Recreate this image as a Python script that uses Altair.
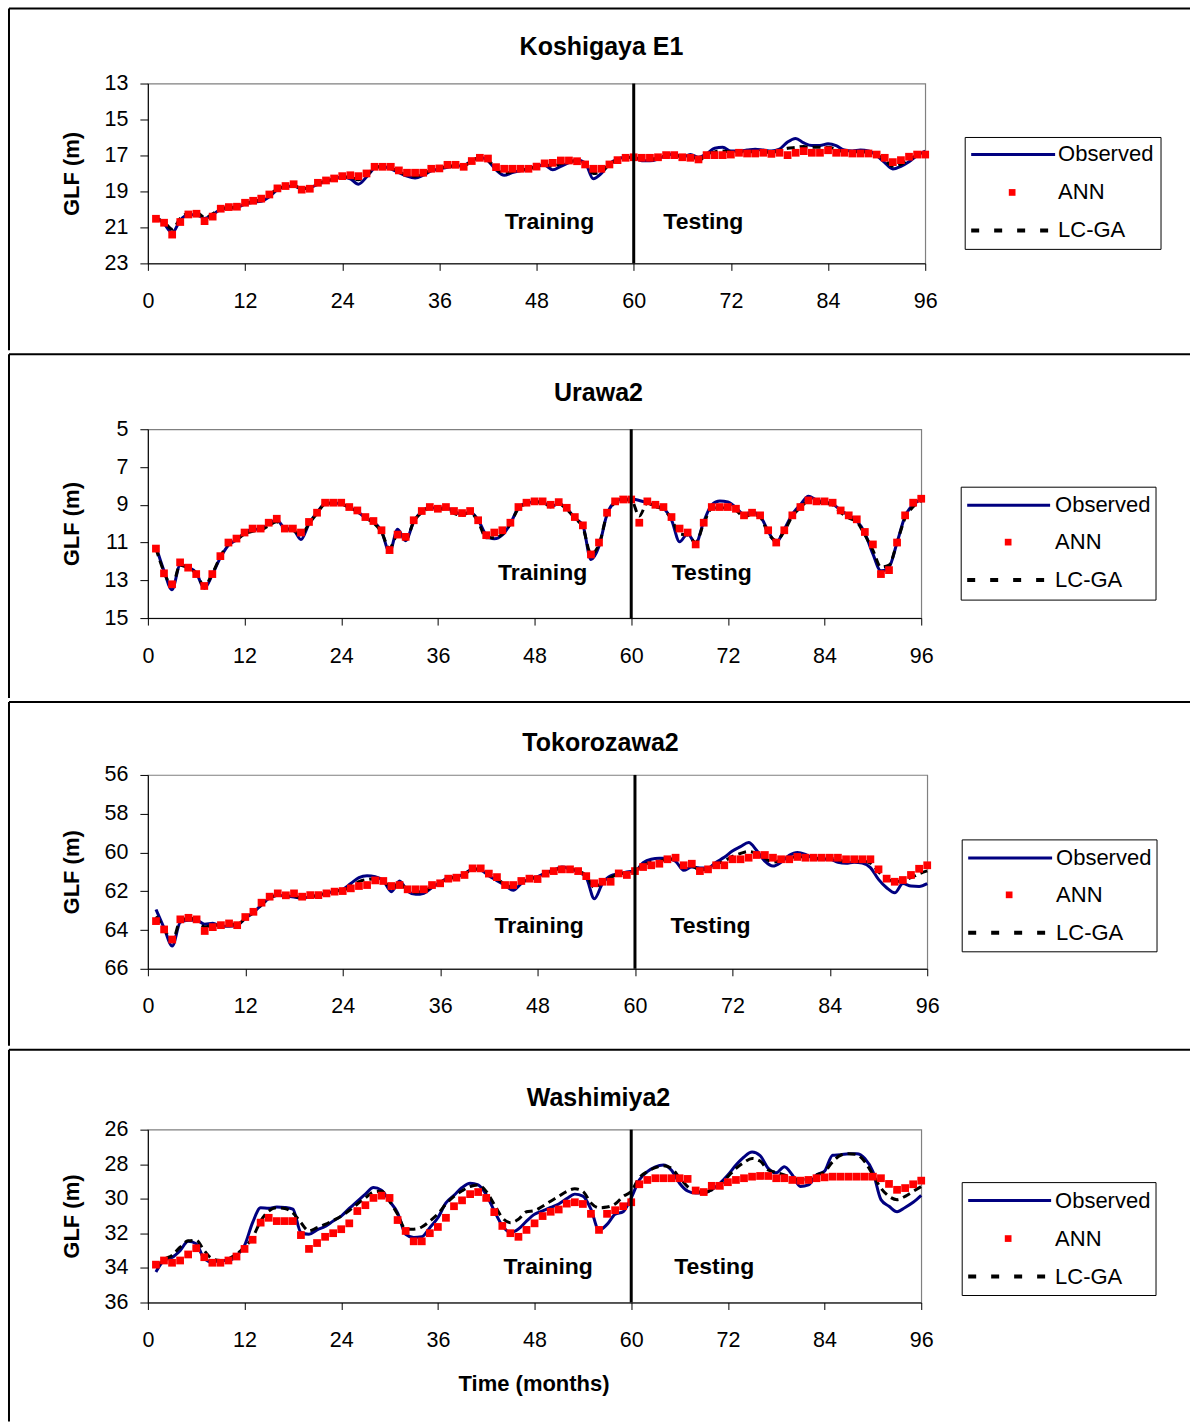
import altair as alt
import pandas as pd

FONT = "Liberation Sans"
months = list(range(1, 97))
x_ticks = list(range(0, 97, 12))

titles = ["Koshigaya E1", "Urawa2", "Tokorozawa2", "Washimiya2"]
series_names = ["Observed", "ANN", "LC-GA"]
annot_labels = ["Training", "Testing"]

# ---------------- Koshigaya E1 ----------------
obs1 = [20.4, 20.8, 21.3, 20.6, 20.3, 20.3, 20.5, 20.3, 20.0, 19.95, 19.9, 19.7, 19.6, 19.55, 19.3, 18.9,
        18.75, 18.7, 18.85, 18.8, 18.6, 18.45, 18.3, 18.2, 18.3, 18.6, 18.2, 17.7, 17.6, 17.75, 17.95, 18.15,
        18.25, 18.1, 17.85, 17.75, 17.65, 17.6, 17.55, 17.3, 17.1, 17.3, 17.8, 18.1, 17.95, 17.85, 17.75, 17.6,
        17.55, 17.8, 17.6, 17.4, 17.25, 17.4, 18.3, 18.0, 17.45, 17.2, 17.1, 17.1, 17.3, 17.3, 17.2, 17.0,
        16.9, 17.1, 16.95, 17.1, 16.9, 16.6, 16.55, 16.75, 16.75, 16.7, 16.65, 16.7, 16.75, 16.65, 16.25, 16.05,
        16.3, 16.45, 16.45, 16.35, 16.45, 16.7, 16.75, 16.7, 16.75, 17.0, 17.4, 17.75, 17.6, 17.35, 17.0, 16.75]
ann1 = [20.52, 20.74, 21.4, 20.7, 20.28, 20.24, 20.65, 20.4, 19.96, 19.87, 19.85, 19.63, 19.52, 19.4, 19.17, 18.83,
        18.7, 18.6, 18.9, 18.85, 18.52, 18.39, 18.28, 18.15, 18.1, 18.15, 18.0, 17.63, 17.63, 17.63, 17.83, 17.96,
        17.96, 17.96, 17.74, 17.72, 17.52, 17.52, 17.63, 17.31, 17.13, 17.17, 17.65, 17.74, 17.74, 17.74, 17.74, 17.62,
        17.44, 17.41, 17.28, 17.28, 17.32, 17.5, 17.74, 17.74, 17.5, 17.26, 17.13, 17.1, 17.13, 17.13, 17.1, 16.98,
        16.98, 17.1, 17.13, 17.22, 16.98, 16.98, 16.98, 16.95, 16.85, 16.89, 16.89, 16.85, 16.91, 16.85, 16.98, 16.85,
        16.76, 16.85, 16.85, 16.71, 16.85, 16.85, 16.89, 16.89, 16.89, 16.95, 17.13, 17.37, 17.26, 17.07, 16.95, 16.95]
lcga1 = [20.5, 20.7, 21.1, 20.5, 20.2, 20.15, 20.45, 20.25, 19.95, 19.9, 19.85, 19.65, 19.55, 19.45, 19.2, 18.85,
         18.72, 18.65, 18.85, 18.8, 18.55, 18.42, 18.3, 18.18, 18.2, 18.35, 18.1, 17.7, 17.62, 17.7, 17.9, 18.1,
         18.15, 18.05, 17.8, 17.73, 17.6, 17.57, 17.58, 17.3, 17.1, 17.25, 17.75, 18.0, 17.9, 17.8, 17.75, 17.62,
         17.5, 17.6, 17.45, 17.35, 17.3, 17.45, 18.0, 17.9, 17.5, 17.25, 17.12, 17.1, 17.2, 17.2, 17.15, 17.0,
         16.95, 17.1, 17.05, 17.3, 16.95, 16.8, 16.75, 16.8, 16.8, 16.8, 16.8, 16.8, 16.85, 16.7, 16.6, 16.55,
         16.5, 16.55, 16.55, 16.55, 16.65, 16.8, 16.8, 16.8, 16.82, 16.95, 17.25, 17.6, 17.5, 17.2, 17.0, 16.85]

# ---------------- Urawa2 ----------------
obs2 = [11.2, 12.5, 13.5, 12.2, 12.3, 12.6, 13.42, 12.7, 11.8, 11.14, 10.85, 10.5, 10.3, 10.3, 10.0, 9.8,
        10.25, 10.3, 10.84, 10.0, 9.4, 8.95, 8.9, 8.95, 9.15, 9.35, 9.7, 9.9, 10.4, 11.5, 10.3, 10.9,
        9.9, 9.35, 9.15, 9.2, 9.15, 9.35, 9.5, 9.4, 9.8, 10.6, 10.8, 10.6, 10.0, 9.15, 8.9, 8.85,
        8.85, 9.1, 8.95, 9.2, 9.7, 10.1, 11.9, 11.2, 9.5, 8.85, 8.7, 8.7, 8.77, 8.9, 9.05, 9.2,
        9.8, 10.96, 10.53, 11.05, 9.9, 9.0, 8.8, 8.85, 9.15, 9.5, 9.4, 9.6, 10.4, 11.0, 10.3, 9.5,
        9.0, 8.55, 8.75, 8.85, 8.95, 9.3, 9.55, 9.85, 10.5, 11.6, 12.5, 12.3, 11.0, 9.6, 9.0, 8.7]
ann2 = [11.32, 12.63, 13.21, 12.05, 12.33, 12.67, 13.3, 12.67, 11.72, 11.0, 10.79, 10.47, 10.26, 10.26, 9.95, 9.74,
        10.26, 10.26, 10.47, 9.91, 9.42, 8.89, 8.89, 8.89, 9.12, 9.3, 9.65, 9.86, 10.35, 11.4, 10.58, 10.7,
        9.82, 9.33, 9.12, 9.21, 9.12, 9.33, 9.44, 9.33, 9.82, 10.61, 10.47, 10.35, 9.95, 9.12, 8.89, 8.82,
        8.82, 9.0, 8.86, 9.16, 9.65, 10.09, 11.63, 11.0, 9.42, 8.82, 8.72, 8.72, 9.95, 8.82, 9.0, 9.12,
        9.65, 10.26, 10.47, 11.1, 9.95, 9.12, 9.12, 9.12, 9.21, 9.56, 9.42, 9.56, 10.35, 11.0, 10.35, 9.56,
        9.12, 8.77, 8.82, 8.82, 8.89, 9.3, 9.56, 9.77, 10.44, 11.1, 12.67, 12.46, 11.0, 9.56, 8.89, 8.68]
lcga2 = [11.3, 12.55, 13.3, 12.2, 12.35, 12.65, 13.3, 12.65, 11.75, 11.05, 10.85, 10.55, 10.4, 10.35, 10.1, 9.9,
         10.3, 10.35, 10.6, 10.0, 9.45, 8.95, 8.9, 8.95, 9.15, 9.35, 9.7, 9.95, 10.45, 11.3, 10.6, 10.85,
         9.9, 9.4, 9.2, 9.25, 9.2, 9.45, 9.55, 9.4, 9.9, 10.75, 10.75, 10.55, 10.0, 9.2, 8.95, 8.85,
         8.85, 9.1, 8.95, 9.25, 9.7, 10.2, 11.6, 11.1, 9.5, 8.9, 8.75, 8.75, 9.6, 8.9, 9.1, 9.25,
         9.75, 10.55, 10.6, 11.0, 10.0, 9.2, 9.15, 9.2, 9.3, 9.65, 9.5, 9.65, 10.5, 10.9, 10.4, 9.6,
         9.15, 8.8, 8.85, 8.9, 9.0, 9.4, 9.7, 9.9, 10.6, 11.4, 12.3, 12.2, 11.0, 9.7, 9.1, 8.8]

# ---------------- Tokorozawa2 ----------------
obs3 = [62.94, 63.9, 64.83, 63.6, 63.5, 63.5, 63.7, 63.65, 63.8, 63.8, 63.75, 63.4, 63.1, 62.7, 62.35, 62.2,
        62.25, 62.3, 62.35, 62.3, 62.2, 62.1, 62.0, 61.9, 61.6, 61.3, 61.2, 61.25, 61.45, 62.02, 61.47, 62.0,
        62.16, 62.1, 61.8, 61.55, 61.3, 61.25, 61.1, 60.85, 60.9, 61.2, 61.45, 61.7, 61.95, 61.6, 61.35, 61.25,
        61.05, 60.9, 60.75, 60.85, 61.0, 61.3, 62.39, 61.6, 61.2, 61.1, 61.0, 60.96, 60.53, 60.35, 60.3, 60.3,
        60.45, 60.92, 60.75, 60.8, 60.8, 60.5, 60.25, 59.92, 59.7, 59.49, 59.9, 60.45, 60.7, 60.5, 60.15, 60.0,
        60.1, 60.3, 60.35, 60.35, 60.5, 60.55, 60.5, 60.55, 60.78, 61.39, 61.82, 62.08, 61.6, 61.73, 61.75, 61.61]
ann3 = [63.54, 63.97, 64.49, 63.45, 63.37, 63.45, 64.05, 63.85, 63.75, 63.66, 63.75, 63.33, 63.06, 62.59, 62.28, 62.11,
        62.21, 62.11, 62.28, 62.2, 62.2, 62.11, 62.02, 61.99, 61.85, 61.73, 61.68, 61.44, 61.47, 61.73, 61.68, 61.9,
        61.9, 61.9, 61.68, 61.59, 61.35, 61.3, 61.16, 60.82, 60.82, 61.09, 61.27, 61.68, 61.68, 61.47, 61.35, 61.37,
        61.09, 60.96, 60.87, 60.87, 60.96, 61.22, 61.59, 61.51, 61.51, 61.08, 61.16, 60.96, 60.75, 60.66, 60.58, 60.35,
        60.27, 60.66, 60.58, 60.96, 60.87, 60.66, 60.66, 60.35, 60.35, 60.27, 60.13, 60.13, 60.27, 60.35, 60.35, 60.23,
        60.27, 60.27, 60.27, 60.27, 60.27, 60.35, 60.35, 60.35, 60.35, 60.87, 61.35, 61.51, 61.42, 61.16, 60.84, 60.66]
lcga3 = [63.3, 63.9, 64.6, 63.5, 63.4, 63.45, 63.85, 63.75, 63.75, 63.7, 63.7, 63.4, 63.1, 62.7, 62.35, 62.2,
         62.25, 62.25, 62.35, 62.3, 62.2, 62.1, 62.0, 61.95, 61.75, 61.5, 61.4, 61.35, 61.45, 61.85, 61.6, 61.95,
         62.05, 62.0, 61.75, 61.55, 61.35, 61.28, 61.12, 60.85, 60.85, 61.1, 61.35, 61.65, 61.8, 61.55, 61.35, 61.3,
         61.07, 60.93, 60.8, 60.85, 60.95, 61.2, 61.8, 61.55, 61.3, 61.1, 61.05, 60.96, 60.65, 60.5, 60.45, 60.35,
         60.35, 60.8, 60.7, 60.9, 60.85, 60.6, 60.45, 60.2, 60.05, 59.95, 60.05, 60.3, 60.5, 60.4, 60.3, 60.2,
         60.25, 60.3, 60.3, 60.3, 60.4, 60.45, 60.45, 60.45, 60.55, 61.0, 61.35, 61.5, 61.45, 61.3, 61.1, 60.95]

# ---------------- Washimiya2 ----------------
obs4 = [34.23, 33.57, 33.4, 33.0, 32.46, 32.6, 33.47, 33.66, 33.57, 33.57, 33.3, 32.7, 31.38, 30.52, 30.55, 30.47,
        30.5, 30.6, 31.95, 32.05, 31.8, 31.6, 31.29, 31.0, 30.56, 30.14, 29.73, 29.35, 29.5, 30.14, 30.81, 32.05,
        32.24, 32.2, 31.67, 31.1, 30.24, 29.8, 29.35, 29.1, 29.2, 29.76, 30.7, 31.55, 31.95, 31.75, 31.29, 30.9,
        30.7, 30.5, 30.3, 29.99, 29.73, 29.85, 30.6, 31.82, 31.48, 30.9, 30.75, 29.95, 28.91, 28.43, 28.15, 28.05,
        28.35, 29.1, 29.55, 29.67, 29.67, 29.47, 29.1, 28.62, 28.05, 27.58, 27.3, 27.5, 28.24, 28.5, 28.15, 28.62,
        29.29, 29.2, 28.62, 28.4, 27.48, 27.45, 27.39, 27.39, 27.67, 28.43, 30.05, 30.43, 30.75, 30.5, 30.2, 29.8]
ann4 = [33.81, 33.57, 33.7, 33.57, 33.22, 32.86, 33.38, 33.7, 33.7, 33.57, 33.34, 32.9, 32.37, 31.38, 31.1, 31.29,
        31.29, 31.29, 32.1, 32.9, 32.56, 32.2, 31.99, 31.76, 31.42, 30.71, 30.37, 29.95, 29.82, 29.95, 31.23, 31.86,
        32.46, 32.46, 31.99, 31.63, 31.1, 30.43, 30.09, 29.73, 29.61, 29.95, 30.77, 31.57, 31.99, 32.2, 31.8, 31.42,
        31.0, 30.75, 30.62, 30.28, 30.2, 30.3, 30.87, 31.8, 30.87, 30.66, 30.43, 30.2, 29.16, 28.91, 28.81, 28.81,
        28.81, 28.81, 28.85, 29.52, 29.61, 29.25, 29.25, 29.04, 28.91, 28.81, 28.72, 28.68, 28.68, 28.81, 28.81, 28.91,
        28.95, 28.91, 28.81, 28.76, 28.72, 28.72, 28.72, 28.72, 28.72, 28.72, 28.81, 29.14, 29.48, 29.38, 29.16, 28.95]
lcga4 = [34.0, 33.52, 33.27, 32.8, 32.43, 32.4, 33.0, 33.47, 33.57, 33.47, 33.2, 32.8, 32.24, 31.29, 30.71, 30.52,
         30.56, 30.81, 31.38, 31.86, 31.67, 31.48, 31.25, 31.0, 30.68, 30.3, 29.95, 29.61, 29.57, 30.14, 30.9, 31.76,
         31.76, 31.63, 31.29, 30.87, 30.3, 29.86, 29.54, 29.29, 29.2, 29.57, 30.33, 31.1, 31.38, 31.19, 30.75, 30.68,
         30.43, 30.14, 29.86, 29.57, 29.42, 29.57, 30.24, 30.52, 30.48, 30.3, 29.86, 29.57, 28.78, 28.43, 28.2, 28.09,
         28.24, 28.78, 29.29, 29.57, 29.61, 29.48, 29.2, 28.72, 28.24, 27.9, 27.67, 27.82, 28.33, 28.47, 28.62, 28.78,
         28.91, 28.85, 28.62, 28.43, 27.86, 27.48, 27.39, 27.44, 27.86, 28.62, 29.38, 29.86, 30.05, 29.86, 29.57, 29.29]

y_domains = [(13, 23), (5, 15), (56, 66), (26, 36)]
train_x = [49.6, 49.0, 48.2, 49.7]
test_x = [68.6, 70.0, 69.3, 70.3]
annot_y = [20.72, 12.62, 63.78, 33.92]
split_month = 60

# layout (pixels, relative to each plot area's top-left corner)
layouts = [
    dict(w=778, h=180, ftop=-75, fbot=267, tx=454, ty=-37, box=(818, 1014, 54, 166), rows=(71, 109, 147), line=(824, 908), sq=865, txt=911),
    dict(w=774, h=189, ftop=-75, fbot=269, tx=451, ty=-36, box=(814, 1009, 58, 171), rows=(76, 113, 151), line=(820, 903), sq=861, txt=908),
    dict(w=780, h=194, ftop=-73, fbot=271, tx=453, ty=-32, box=(815, 1010, 65, 177), rows=(83, 120, 158), line=(821, 905), sq=862, txt=909),
    dict(w=774, h=173, ftop=-80, fbot=292, tx=451, ty=-32, box=(815, 1009, 53, 166), rows=(71, 109, 147), line=(821, 904), sq=861, txt=908),
]

NAVY = "#000080"
RED = "#FF0000"
one = pd.DataFrame({"k": [0]})


def make_panel(i, obs, ann, lcga, last):
    L = layouts[i]
    ymin, ymax = y_domains[i]
    xaxis_kw = dict(values=x_ticks, tickSize=7, labelPadding=20, labelFlush=False, grid=False,
                    labelFont=FONT, labelFontSize=21.5, labelColor="black",
                    domainColor="black", tickColor="black", domainWidth=1)
    if last:
        xaxis = alt.Axis(title="Time (months)", titleFont=FONT, titleFontSize=22, titleFontWeight="bold",
                         titleColor="black", titleX=L["w"] / 2 - 1, titleY=81, titleBaseline="middle", **xaxis_kw)
    else:
        xaxis = alt.Axis(title=None, **xaxis_kw)
    yaxis = alt.Axis(values=list(range(ymin, ymax + 1, 2)), tickSize=8, labelPadding=12, grid=False,
                     labelFont=FONT, labelFontSize=21.5, labelColor="black",
                     domainColor="black", tickColor="black",
                     title="GLF (m)", titleFont=FONT, titleFontSize=22, titleFontWeight="bold",
                     titleColor="black", titleX=-76, titleY=L["h"] / 2, titleBaseline="middle")
    xs = alt.Scale(domain=[0, 96], nice=False, zero=False)
    ys = alt.Scale(domain=[ymin, ymax], nice=False, zero=False, reverse=True)

    def X():
        return alt.X("month:Q", scale=xs, axis=xaxis)

    def Y():
        return alt.Y("value:Q", scale=ys, axis=yaxis)

    d_obs = pd.DataFrame({"month": months, "value": obs})
    d_ann = pd.DataFrame({"month": months, "value": ann})
    d_lc = pd.DataFrame({"month": months, "value": lcga})

    obs_line = alt.Chart(d_obs).mark_line(color=NAVY, strokeWidth=3, interpolate="monotone").encode(x=X(), y=Y())
    lc_line = alt.Chart(d_lc).mark_line(color="black", strokeWidth=3, strokeDash=[8, 5],
                                        interpolate="monotone").encode(x=X(), y=Y())
    ann_pts = alt.Chart(d_ann).mark_square(color=RED, size=60, opacity=1).encode(x=X(), y=Y())
    split = alt.Chart(pd.DataFrame({"month": [split_month]})).mark_rule(color="black", strokeWidth=3).encode(x=X())
    annot = alt.Chart(pd.DataFrame({"month": [train_x[i], test_x[i]], "value": [annot_y[i]] * 2,
                                    "label": annot_labels})).mark_text(
        font=FONT, fontSize=23, fontWeight="bold", color="black", align="center", baseline="middle"
    ).encode(x=X(), y=Y(), text="label:N")

    # panel frame
    top_line = alt.Chart(one).mark_rule(color="black", strokeWidth=2).encode(
        x=alt.value(-139), x2=alt.value(1043), y=alt.value(L["ftop"]))
    left_line = alt.Chart(one).mark_rule(color="black", strokeWidth=2).encode(
        x=alt.value(-139), y=alt.value(L["ftop"]), y2=alt.value(L["fbot"]))
    title = alt.Chart(pd.DataFrame({"t": [titles[i]]})).mark_text(
        font=FONT, fontSize=25, fontWeight="bold", color="black", align="center", baseline="middle"
    ).encode(x=alt.value(L["tx"]), y=alt.value(L["ty"]), text="t:N")

    # legend
    bx0, bx1, by0, by1 = L["box"]
    r0, r1, r2 = L["rows"]
    lx0, lx1 = L["line"]
    box = alt.Chart(one).mark_rect(fill="white", stroke="black", strokeWidth=1).encode(
        x=alt.value(bx0), x2=alt.value(bx1), y=alt.value(by0), y2=alt.value(by1))
    leg_obs = alt.Chart(one).mark_rule(color=NAVY, strokeWidth=3).encode(
        x=alt.value(lx0), x2=alt.value(lx1), y=alt.value(r0))
    leg_ann = alt.Chart(one).mark_square(color=RED, size=45, opacity=1).encode(
        x=alt.value(L["sq"]), y=alt.value(r1))
    leg_lc = alt.Chart(one).mark_rule(color="black", strokeWidth=4, strokeDash=[8, 15]).encode(
        x=alt.value(lx0), x2=alt.value(lx1 - 4), y=alt.value(r2))
    leg_txt = [
        alt.Chart(pd.DataFrame({"t": [series_names[j]]})).mark_text(
            font=FONT, fontSize=22, color="black", align="left", baseline="middle"
        ).encode(x=alt.value(L["txt"]), y=alt.value(r), text="t:N")
        for j, r in enumerate([r0, r1, r2])
    ]

    return alt.layer(
        top_line, left_line, title, obs_line, lc_line, ann_pts, split, annot,
        box, leg_obs, leg_ann, leg_lc, *leg_txt
    ).properties(width=L["w"], height=L["h"])


panels = [
    make_panel(0, obs1, ann1, lcga1, False),
    make_panel(1, obs2, ann2, lcga2, False),
    make_panel(2, obs3, ann3, lcga3, False),
    make_panel(3, obs4, ann4, lcga4, True),
]

chart = alt.vconcat(*panels, spacing=0).resolve_scale(x="independent", y="independent").properties(
    padding={"left": 7, "top": 6, "right": 0, "bottom": 0}, background="white"
).configure_view(stroke="#808080", strokeWidth=1.2).configure_concat(spacing=0)

chart.save("out.html", embed_options={"renderer": "svg", "actions": False})
